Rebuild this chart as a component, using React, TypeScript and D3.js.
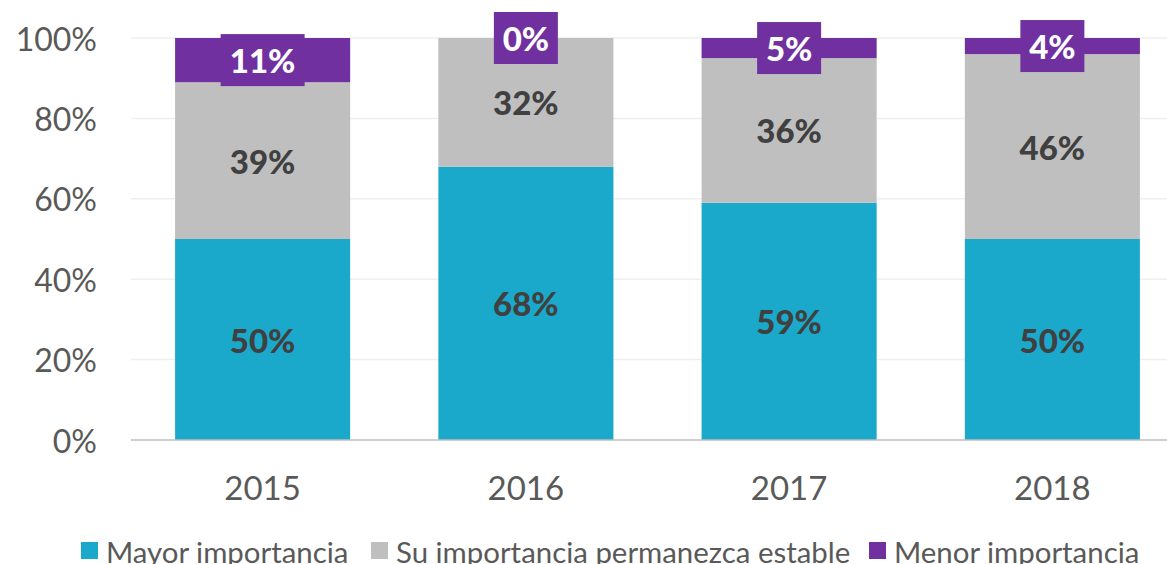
import React from "react";
import * as d3 from "d3";

const years = ["2015", "2016", "2017", "2018"];
const mayor = [50, 68, 59, 50];
const estable = [39, 32, 36, 46];
const menor = [11, 0, 5, 4];
const seriesNames = ["Mayor importancia", "Su importancia permanezca estable", "Menor importancia"];
const seriesColors = ["#1BA9CB", "#BFBFBF", "#7030A0"];
const yTicks = [0, 20, 40, 60, 80, 100];

const W = 1167;
const H = 564;
const left = 131;
const right = 1184;
const top = 38;
const bottom = 440;
const FONT = "Lato, 'Open Sans', sans-serif";

export default function App() {
  const x = d3.scaleBand<string>().domain(years).range([left, right]).paddingInner(0.335).paddingOuter(0.1675);
  const y = d3.scaleLinear().domain([0, 100]).range([bottom, top]);
  const rows = years.map((yr, i) => ({ year: yr, vals: [mayor[i], estable[i], menor[i]] }));
  const stacks = rows.map((r) => {
    let acc = 0;
    return r.vals.map((v, k) => {
      const s = { y0: acc, y1: acc + v, v, k };
      acc += v;
      return s;
    });
  });
  const legendX = [81, 371, 869];

  return (
    <svg width={W} height={H} style={{ position: "absolute", left: 0, top: 0, background: "#fff" }}>
      {yTicks.map((t) => (
        <g key={t}>
          {t > 0 && <line x1={left} x2={right} y1={y(t)} y2={y(t)} stroke="#EFEFEF" strokeWidth={1.5} />}
          <text x={97} y={y(t)} textAnchor="end" dominantBaseline="central" fontFamily={FONT} fontSize={32} fill="#595959">
            {t}%
          </text>
        </g>
      ))}
      {rows.map((r, i) => (
        <g key={r.year}>
          {stacks[i].map((s) =>
            s.v > 0 ? (
              <rect key={s.k} x={x(r.year)} width={x.bandwidth()} y={y(s.y1)} height={y(s.y0) - y(s.y1)} fill={seriesColors[s.k]} />
            ) : null
          )}
        </g>
      ))}
      <line x1={left} x2={right} y1={bottom} y2={bottom} stroke="#BFBFBF" strokeWidth={1.5} />
      {rows.map((r, i) => {
        const cx = (x(r.year) as number) + x.bandwidth() / 2;
        return (
          <g key={"l" + r.year}>
            {stacks[i].map((s) => {
              const cy = (y(s.y0) + y(s.y1)) / 2;
              if (s.k === 2) {
                const bw = s.v >= 10 ? 84 : 64;
                return (
                  <g key={s.k}>
                    <rect x={cx - bw / 2} y={cy - 26} width={bw} height={52} fill={seriesColors[2]} />
                    <text x={cx} y={cy} textAnchor="middle" dominantBaseline="central" fontFamily={FONT} fontWeight={900} fontSize={33} fill="#fff">
                      {s.v}%
                    </text>
                  </g>
                );
              }
              return (
                <text key={s.k} x={cx} y={cy} textAnchor="middle" dominantBaseline="central" fontFamily={FONT} fontWeight={900} fontSize={33} fill="#404040">
                  {s.v}%
                </text>
              );
            })}
            <text x={cx} y={487} textAnchor="middle" dominantBaseline="central" fontFamily={FONT} fontSize={33} fill="#595959">
              {r.year}
            </text>
          </g>
        );
      })}
      {seriesNames.map((n, k) => (
        <g key={n}>
          <rect x={legendX[k]} y={542} width={17} height={17} fill={seriesColors[k]} />
          <text x={legendX[k] + 25} y={551} dominantBaseline="central" fontFamily={FONT} fontSize={29.4} fill="#595959">
            {n}
          </text>
        </g>
      ))}
    </svg>
  );
}
